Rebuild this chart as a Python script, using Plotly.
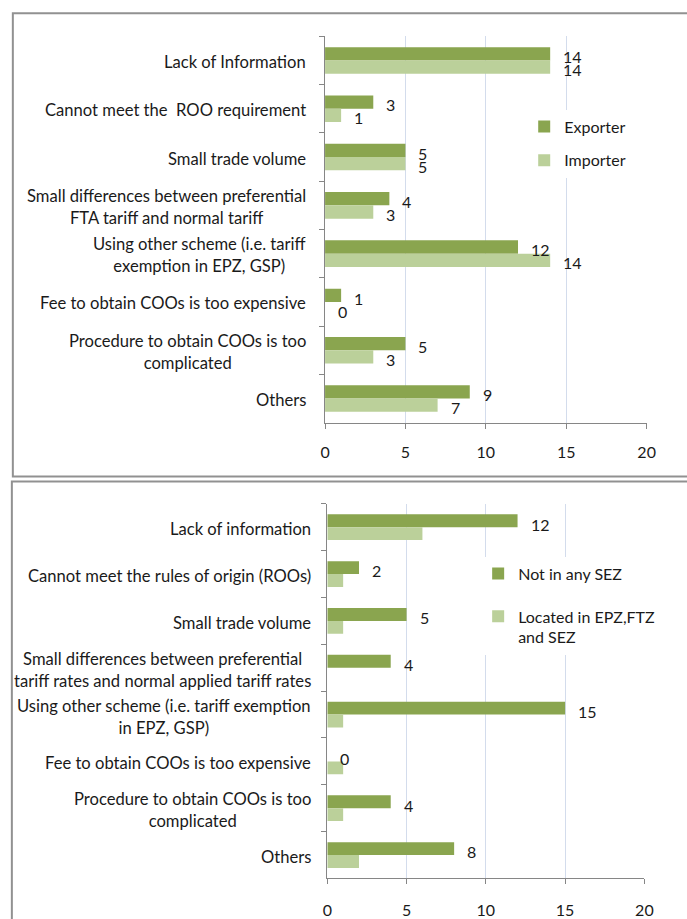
import plotly.graph_objects as go

# ---------------- data ----------------
top_categories = [
    "Lack of Information",
    "Cannot meet the  ROO requirement",
    "Small trade volume",
    "Small differences between preferential<br>FTA tariff and normal tariff",
    "Using other scheme (i.e. tariff<br>exemption in EPZ, GSP)",
    "Fee to obtain COOs is too expensive",
    "Procedure to obtain COOs is too<br>complicated",
    "Others",
]
top_exporter = [14, 3, 5, 4, 12, 1, 5, 9]
top_importer = [14, 1, 5, 3, 14, 0, 3, 7]

bottom_categories = [
    "Lack of information",
    "Cannot meet the rules of origin (ROOs)",
    "Small trade volume",
    "Small differences between preferential<br>tariff rates and normal applied tariff rates",
    "Using other scheme (i.e. tariff exemption<br>in EPZ, GSP)",
    "Fee to obtain COOs is too expensive",
    "Procedure to obtain COOs is too<br>complicated",
    "Others",
]
bottom_not_sez = [12, 2, 5, 4, 15, 0, 4, 8]
bottom_in_sez = [6, 1, 1, 0, 1, 1, 1, 2]

x_ticks = [0, 5, 10, 15, 20]

# ---------------- style ----------------
W, H = 687, 919
DARK = "#8AA54F"
LIGHT = "#BBD09A"
GRID = "#D3DCEC"
AXIS = "#868686"
BORDER = "#919191"
TXT = "#1a1a1a"
FONT = "Lato, Liberation Sans, sans-serif"
FS = 16
FS_CAT = 16.6


def px_x(v):
    return v / W


def px_y(v):
    return 1 - v / H


fig = go.Figure()

fig.add_bar(y=top_categories, x=top_exporter, orientation="h", name="Exporter",
            marker=dict(color=DARK, line=dict(width=0)), xaxis="x", yaxis="y",
            legend="legend", legendgroup="t1")
fig.add_bar(y=top_categories, x=top_importer, orientation="h", name="Importer",
            marker=dict(color=LIGHT, line=dict(width=0)), xaxis="x", yaxis="y",
            legend="legend", legendgroup="t2")
fig.add_bar(y=bottom_categories, x=bottom_not_sez, orientation="h", name="Not in any SEZ",
            marker=dict(color=DARK, line=dict(width=0)), xaxis="x2", yaxis="y2",
            legend="legend2", legendgroup="b1")
fig.add_bar(y=bottom_categories, x=bottom_in_sez, orientation="h",
            name="Located in EPZ,FTZ<br>and SEZ",
            marker=dict(color=LIGHT, line=dict(width=0)), xaxis="x2", yaxis="y2",
            legend="legend2", legendgroup="b2")

annotations = []
# category labels
for cats, xr, yr, shift, ysh in [(top_categories, "x domain", "y", -17.5, -1.5),
                                 (bottom_categories, "x2 domain", "y2", -14.5, -2)]:
    for c in cats:
        annotations.append(dict(x=0, xref=xr, y=c, yref=yr, text=c, showarrow=False,
                                xanchor="right", align="center", xshift=shift, yshift=ysh,
                                font=dict(family=FONT, size=FS_CAT, color=TXT)))

# data labels
def add_labels(cats, vals, xr, yr, ysh):
    for c, v in zip(cats, vals):
        annotations.append(dict(x=v, xref=xr, y=c, yref=yr, text=str(v), showarrow=False,
                                xanchor="left", xshift=11, yshift=ysh,
                                font=dict(family=FONT, size=FS, color=TXT)))

add_labels(top_categories, top_exporter, "x", "y", 3.8)
add_labels(top_categories, top_importer, "x", "y", -9.2)
add_labels(bottom_categories, bottom_not_sez, "x2", "y2", 3.2)

shapes = [
    dict(type="rect", xref="paper", yref="paper",
         x0=px_x(8), x1=px_x(700), y0=px_y(478.5), y1=px_y(13.3),
         line=dict(color=BORDER, width=2), fillcolor="rgba(0,0,0,0)", layer="below"),
    dict(type="rect", xref="paper", yref="paper",
         x0=px_x(7), x1=px_x(700), y0=px_y(930), y1=px_y(483.5),
         line=dict(color=BORDER, width=2), fillcolor="rgba(0,0,0,0)", layer="below"),
]

xaxis_common = dict(range=[0, 20], tickvals=x_ticks, ticks="outside", ticklen=5,
                    tickcolor=AXIS, showline=True, linecolor=AXIS, linewidth=1,
                    showgrid=True, gridcolor=GRID, gridwidth=1, zeroline=False,
                    tickfont=dict(family=FONT, size=FS, color=TXT), fixedrange=True)
yaxis_common = dict(autorange="reversed", showticklabels=False, ticks="outside",
                    tickson="boundaries", ticklen=5, tickcolor=AXIS, showline=True,
                    linecolor=AXIS, linewidth=1, showgrid=False, zeroline=False,
                    fixedrange=True)

fig.update_layout(
    width=W, height=H, margin=dict(l=0, r=0, t=0, b=0),
    paper_bgcolor="white", plot_bgcolor="white",
    barmode="group", bargap=0.45, bargroupgap=0,
    font=dict(family=FONT, size=FS, color=TXT),
    xaxis=dict(domain=[px_x(326.7), px_x(655)], anchor="y", ticklabelstandoff=10,
               **xaxis_common),
    yaxis=dict(domain=[px_y(424.5), px_y(36.5)], anchor="x", **yaxis_common),
    xaxis2=dict(domain=[px_x(329), px_x(652.7)], anchor="y2", ticklabelstandoff=12,
                **xaxis_common),
    yaxis2=dict(domain=[px_y(882.3), px_y(506)], anchor="x2", **yaxis_common),
    legend=dict(x=px_x(530), y=px_y(110), xanchor="left", yanchor="top",
                bgcolor="white", traceorder="grouped", tracegroupgap=10,
                font=dict(family=FONT, size=FS, color=TXT), valign="top"),
    legend2=dict(x=px_x(483), y=px_y(559), xanchor="left", yanchor="top",
                 bgcolor="white", traceorder="grouped", tracegroupgap=19,
                 font=dict(family=FONT, size=FS, color=TXT), valign="top"),
    annotations=annotations,
    shapes=shapes,
    showlegend=True,
)

fig.write_html("out.html", config={"displayModeBar": False},
               post_script="document.body.style.margin='0';")
